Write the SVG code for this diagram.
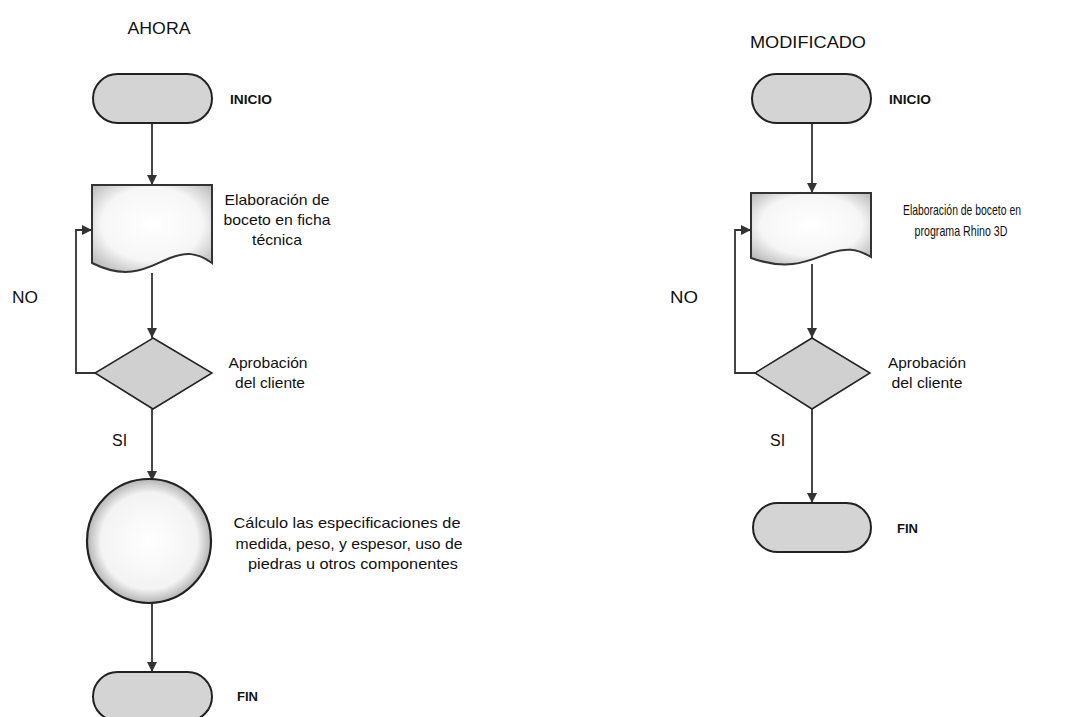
<svg xmlns="http://www.w3.org/2000/svg" width="1082" height="717" viewBox="0 0 1082 717">
<defs>
<radialGradient id="gDoc" cx="0.5" cy="0.45" r="0.65">
<stop offset="0" stop-color="#ffffff"/>
<stop offset="0.65" stop-color="#f6f6f6"/>
<stop offset="1" stop-color="#bcbcbc"/>
</radialGradient>
<radialGradient id="gCirc" cx="0.5" cy="0.5" r="0.5">
<stop offset="0" stop-color="#ffffff"/>
<stop offset="0.78" stop-color="#f3f3f3"/>
<stop offset="1" stop-color="#b4b4b4"/>
</radialGradient>
<marker id="arr" viewBox="0 0 10 10" refX="10" refY="5" markerWidth="10" markerHeight="10" markerUnits="userSpaceOnUse" orient="auto">
<path d="M0,0 L10,5 L0,10 z" fill="#333"/>
</marker>
</defs>
<style>
.term{fill:#d4d4d4;stroke:#222;stroke-width:2}
.doc{fill:url(#gDoc);stroke:#333;stroke-width:2}
.dia{fill:#d0d0d0;stroke:#222;stroke-width:1.5}
.circ{fill:url(#gCirc);stroke:#222;stroke-width:2.2}
.con{fill:none;stroke:#333;stroke-width:1.8}
.lbl{font-family:"Liberation Sans",Arial,sans-serif;font-size:15px;fill:#111}
.lblb{font-family:"Liberation Sans",Arial,sans-serif;font-size:13.5px;fill:#111;font-weight:bold}
.ttl{font-family:"Liberation Sans",Arial,sans-serif;font-size:17px;fill:#111}
.side{font-family:"Liberation Sans",Arial,sans-serif;font-size:16px;fill:#111}
</style>
<rect width="1082" height="717" fill="#ffffff"/>

<text class="ttl" x="159" y="34" text-anchor="middle" textLength="63" lengthAdjust="spacingAndGlyphs">AHORA</text>
<text class="ttl" x="808" y="48" text-anchor="middle" textLength="116" lengthAdjust="spacingAndGlyphs">MODIFICADO</text>

<g id="connectors">
<line class="con" x1="152" y1="123" x2="152" y2="185" marker-end="url(#arr)"/>
<line class="con" x1="152" y1="273" x2="152" y2="338" marker-end="url(#arr)"/>
<polyline class="con" points="95,373 76,373 76,230 92,230" marker-end="url(#arr)"/>
<line class="con" x1="152" y1="409" x2="152" y2="481" marker-end="url(#arr)"/>
<line class="con" x1="152" y1="601" x2="152" y2="672" marker-end="url(#arr)"/>

<line class="con" x1="812" y1="123" x2="812" y2="193" marker-end="url(#arr)"/>
<line class="con" x1="812" y1="264" x2="812" y2="338" marker-end="url(#arr)"/>
<polyline class="con" points="755,373 735,373 735,230 751,230" marker-end="url(#arr)"/>
<line class="con" x1="812" y1="409" x2="812" y2="503" marker-end="url(#arr)"/>
</g>

<g id="l-inicio">
<rect class="term" x="93" y="74" width="119" height="49" rx="24.5"/>
<text class="lblb" x="230" y="104" textLength="42" lengthAdjust="spacingAndGlyphs">INICIO</text>
</g>
<g id="l-boceto">
<path class="doc" d="M92,185 L212,185 L212,263 C196,252 186,252 170,258 C150,266 130,282 92,263 Z"/>
<text class="lbl" text-anchor="middle" x="277" y="205" textLength="105" lengthAdjust="spacingAndGlyphs">Elaboración de</text>
<text class="lbl" text-anchor="middle" x="277" y="225" textLength="107" lengthAdjust="spacingAndGlyphs">boceto en ficha</text>
<text class="lbl" text-anchor="middle" x="277" y="245" textLength="50" lengthAdjust="spacingAndGlyphs">técnica</text>
</g>
<g id="l-aprob">
<polygon class="dia" points="153,338 212,373 153,409 95,373"/>
<text class="lbl" text-anchor="middle" x="268" y="368" textLength="79" lengthAdjust="spacingAndGlyphs">Aprobación</text>
<text class="lbl" text-anchor="middle" x="270" y="388" textLength="70" lengthAdjust="spacingAndGlyphs">del cliente</text>
</g>
<text class="side" x="12" y="303" textLength="26" lengthAdjust="spacingAndGlyphs">NO</text>
<text class="side" x="112" y="446">SI</text>
<g id="l-calculo">
<circle class="circ" cx="149" cy="541" r="62"/>
<text class="lbl" text-anchor="middle" x="347" y="528" textLength="227" lengthAdjust="spacingAndGlyphs">Cálculo las especificaciones de</text>
<text class="lbl" text-anchor="middle" x="349" y="549" textLength="227" lengthAdjust="spacingAndGlyphs">medida, peso, y espesor, uso de</text>
<text class="lbl" text-anchor="middle" x="353" y="569" textLength="210" lengthAdjust="spacingAndGlyphs">piedras u otros componentes</text>
</g>
<g id="l-fin">
<rect class="term" x="93" y="672" width="119" height="49" rx="24.5"/>
<text class="lblb" x="237" y="701" textLength="21" lengthAdjust="spacingAndGlyphs">FIN</text>
</g>

<g id="r-inicio">
<rect class="term" x="752" y="74" width="119" height="49" rx="24.5"/>
<text class="lblb" x="889" y="104" textLength="42" lengthAdjust="spacingAndGlyphs">INICIO</text>
</g>
<g id="r-boceto">
<path class="doc" d="M751,193 L871,193 L871,257 C856,248 846,248 830,253 C810,260 790,272 751,258 Z"/>
<text class="lbl" text-anchor="middle" x="962" y="215" font-size="14" textLength="118" lengthAdjust="spacingAndGlyphs">Elaboración de boceto en</text>
<text class="lbl" text-anchor="middle" x="961" y="236" font-size="14" textLength="93" lengthAdjust="spacingAndGlyphs">programa Rhino 3D</text>
</g>
<g id="r-aprob">
<polygon class="dia" points="812,338 870,373 812,409 755,373"/>
<text class="lbl" text-anchor="middle" x="927" y="368" textLength="78" lengthAdjust="spacingAndGlyphs">Aprobación</text>
<text class="lbl" text-anchor="middle" x="927" y="388" textLength="71" lengthAdjust="spacingAndGlyphs">del cliente</text>
</g>
<text class="side" x="670" y="303" textLength="28" lengthAdjust="spacingAndGlyphs">NO</text>
<text class="side" x="770" y="446">SI</text>
<g id="r-fin">
<rect class="term" x="753" y="503" width="118" height="49" rx="24.5"/>
<text class="lblb" x="897" y="533" textLength="21" lengthAdjust="spacingAndGlyphs">FIN</text>
</g>
</svg>
